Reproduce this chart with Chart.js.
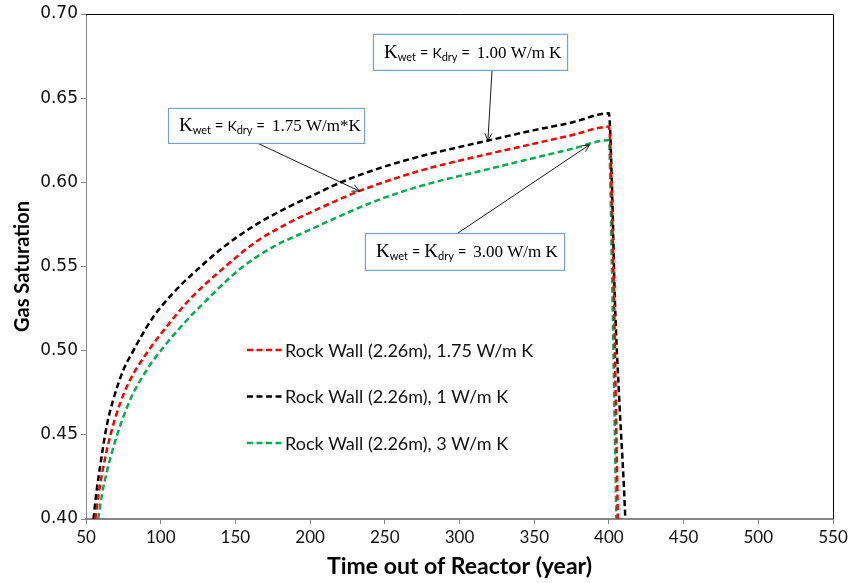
<!DOCTYPE html>
<html>
<head>
<meta charset="utf-8">
<script src="https://cdn.jsdelivr.net/npm/chart.js@4.4.1/dist/chart.umd.min.js"></script>
<style>
  html, body { margin: 0; padding: 0; background: #fff; }
</style>
</head>
<body>
<canvas id="chart" width="852" height="583"></canvas>
<script>
// Series (time in years, gas saturation)
const redX   = [56.3, 58.5, 61.6, 66.1, 72.8, 79.5, 90.6, 104, 120, 142, 164, 187, 200, 232, 274, 320, 350, 375, 400, 403, 405, 406];
const redY   = [0.400, 0.415, 0.431, 0.449, 0.4687, 0.4826, 0.4985, 0.5143, 0.531, 0.549, 0.5648, 0.5765, 0.582, 0.5945, 0.607, 0.617, 0.623, 0.628, 0.633, 0.55, 0.45, 0.40];
const blackX = [55, 57, 59.4, 63.8, 68.3, 75, 81.7, 86, 95, 104, 113, 120, 142, 164, 187, 200, 222, 245, 274, 300, 320, 350, 375, 400, 402, 404, 407, 410, 411];
const blackY = [0.400, 0.416, 0.431, 0.455, 0.471, 0.4885, 0.500, 0.507, 0.520, 0.530, 0.5385, 0.5445, 0.5615, 0.575, 0.586, 0.5915, 0.6005, 0.608, 0.6155, 0.621, 0.625, 0.631, 0.6355, 0.641, 0.60, 0.53, 0.47, 0.42, 0.40];
const greenX = [58.2, 60.5, 63.8, 70.5, 79.5, 90.6, 104, 120, 125, 153, 175, 199, 207, 245, 274, 320, 350, 375, 400, 402, 404, 405];
const greenY = [0.400, 0.4135, 0.4275, 0.449, 0.4707, 0.4885, 0.5044, 0.5205, 0.525, 0.5485, 0.5615, 0.5715, 0.5748, 0.5893, 0.5978, 0.608, 0.6145, 0.6198, 0.625, 0.55, 0.45, 0.40];

const seriesLabels = ['Rock Wall (2.26m), 1.75 W/m K', 'Rock Wall (2.26m), 1 W/m K', 'Rock Wall (2.26m), 3 W/m K'];
const seriesColors = ['#ff0000', '#000000', '#00b050'];

// Callout boxes: value text, series they point at, x of the arrow tip
const noteValues = ['1.00 W/m K', '1.75 W/m*K', '3.00 W/m K'];
const noteSeries = [1, 0, 2];
const noteTipX   = [319, 233, 387];

const toPoints = (xs, ys) => xs.map((x, i) => ({ x, y: ys[i] }));

function yOnSeries(xs, ys, x) {
  for (let i = 1; i < xs.length; i++) {
    if (x <= xs[i]) {
      const t = (x - xs[i - 1]) / (xs[i] - xs[i - 1]);
      return ys[i - 1] + t * (ys[i] - ys[i - 1]);
    }
  }
  return ys[ys.length - 1];
}

const allX = [redX, blackX, greenX];
const allY = [redY, blackY, greenY];

function arrow(ctx, x1, y1, x2, y2) {
  ctx.beginPath();
  ctx.moveTo(x1, y1);
  ctx.lineTo(x2, y2);
  const a = Math.atan2(y2 - y1, x2 - x1);
  const len = 8;
  ctx.moveTo(x2, y2);
  ctx.lineTo(x2 - len * Math.cos(a - 0.45), y2 - len * Math.sin(a - 0.45));
  ctx.moveTo(x2, y2);
  ctx.lineTo(x2 - len * Math.cos(a + 0.45), y2 - len * Math.sin(a + 0.45));
  ctx.stroke();
}

function drawNote(ctx, left, top, w, h, value, smallK) {
  ctx.save();
  ctx.fillStyle = '#fff';
  ctx.fillRect(left, top, w, h);
  ctx.strokeStyle = '#7aa0cf';
  ctx.lineWidth = 1.2;
  ctx.strokeRect(left + 0.5, top + 0.5, w, h);
  ctx.fillStyle = '#000';
  ctx.textBaseline = 'alphabetic';
  ctx.textAlign = 'left';
  const base = top + h / 2 + 6;
  let x = left + 11;
  const piece = (txt, font, dy) => {
    ctx.font = font;
    ctx.fillText(txt, x, base + (dy || 0));
    x += ctx.measureText(txt).width;
  };
  piece('K', '19px "Liberation Serif"');
  piece('wet', '11px Lato', 3);
  piece(' = ', '15px Lato');
  if (smallK) piece('K', '14px Lato'); else piece('K', '19px "Liberation Serif"');
  piece('dry', '11px Lato', 3);
  piece(' = ', '15px Lato');
  x += 3;
  piece(value, '17px "Liberation Serif"');
  ctx.restore();
}

const overlay = {
  id: 'overlay',
  afterDraw(chart) {
    const { ctx, chartArea: a, scales: { x, y } } = chart;
    ctx.save();
    // plot frame top/right
    ctx.strokeStyle = '#000';
    ctx.lineWidth = 1;
    ctx.beginPath();
    ctx.moveTo(a.left, a.top + 0.5);
    ctx.lineTo(a.right + 0.5, a.top + 0.5);
    ctx.lineTo(a.right + 0.5, a.bottom);
    ctx.stroke();

    // legend inside plot
    ctx.font = '18px Lato';
    ctx.textBaseline = 'middle';
    chart.data.datasets.forEach((ds, i) => {
      const ly = 350 + i * 46.5;
      ctx.strokeStyle = ds.borderColor;
      ctx.lineWidth = 2.5;
      ctx.setLineDash([6, 3.5]);
      ctx.beginPath();
      ctx.moveTo(247, ly);
      ctx.lineTo(284, ly);
      ctx.stroke();
      ctx.setLineDash([]);
      ctx.fillStyle = '#111';
      ctx.fillText(ds.label, 285, ly + 1);
    });

    // callouts (box corners in data units)
    const boxes = [
      [242.1, 0.6882, 372.0, 0.6668, 321.8, 'bottom', true],
      [104.9, 0.6442, 236.1, 0.6234, 164.5, 'bottom', true],
      [236.7, 0.5699, 370.0, 0.5480, 299.0, 'top', false]
    ];
    boxes.forEach((b, i) => {
      const l = x.getPixelForValue(b[0]), t = y.getPixelForValue(b[1]);
      const r = x.getPixelForValue(b[2]), btm = y.getPixelForValue(b[3]);
      const s = noteSeries[i];
      const tx = x.getPixelForValue(noteTipX[i]);
      const ty = y.getPixelForValue(yOnSeries(allX[s], allY[s], noteTipX[i]));
      const fx = x.getPixelForValue(b[4]);
      const fy = b[5] === 'bottom' ? btm : t;
      ctx.strokeStyle = '#000';
      ctx.lineWidth = 0.9;
      arrow(ctx, fx, fy, tx, ty);
      drawNote(ctx, l, t, r - l, btm - t, noteValues[i], b[6]);
    });
    ctx.restore();
  }
};

const axisGray = '#868686';

new Chart(document.getElementById('chart'), {
  type: 'line',
  data: {
    datasets: [0, 1, 2].map(i => ({
      label: seriesLabels[i],
      data: toPoints(allX[i], allY[i]),
      borderColor: seriesColors[i],
      backgroundColor: seriesColors[i],
      borderWidth: 2.5,
      borderDash: [6, 3.5],
      pointRadius: 0,
      cubicInterpolationMode: 'monotone',
      fill: false
    }))
  },
  options: {
    responsive: false,
    animation: false,
    devicePixelRatio: 1,
    layout: { padding: { top: 14, right: 19, bottom: 3, left: 11 } },
    plugins: { legend: { display: false }, tooltip: { enabled: false } },
    scales: {
      x: {
        type: 'linear',
        min: 50,
        max: 550,
        ticks: { stepSize: 50, color: '#111', font: { family: 'Lato', size: 17 }, padding: 3, maxRotation: 0 },
        grid: { drawOnChartArea: false, drawTicks: true, tickLength: 5, color: axisGray },
        border: { color: axisGray, width: 2 },
        title: { display: true, text: 'Time out of Reactor (year)', color: '#000', font: { family: 'Lato', size: 23, weight: 'bold' }, padding: 0 },
        afterFit: s => { s.height = 61; }
      },
      y: {
        min: 0.40,
        max: 0.70,
        ticks: { stepSize: 0.05, color: '#111', font: { family: 'DejaVu Sans', size: 17 }, padding: 3, callback: v => v.toFixed(2) },
        grid: { drawOnChartArea: false, drawTicks: true, tickLength: 5, color: axisGray },
        border: { color: axisGray, width: 1 },
        title: { display: true, text: 'Gas Saturation', color: '#000', font: { family: 'Lato', size: 20, weight: 'bold' }, padding: 0 },
        afterFit: s => { s.width = 75; }
      }
    }
  },
  plugins: [overlay]
});
</script>
</body>
</html>
